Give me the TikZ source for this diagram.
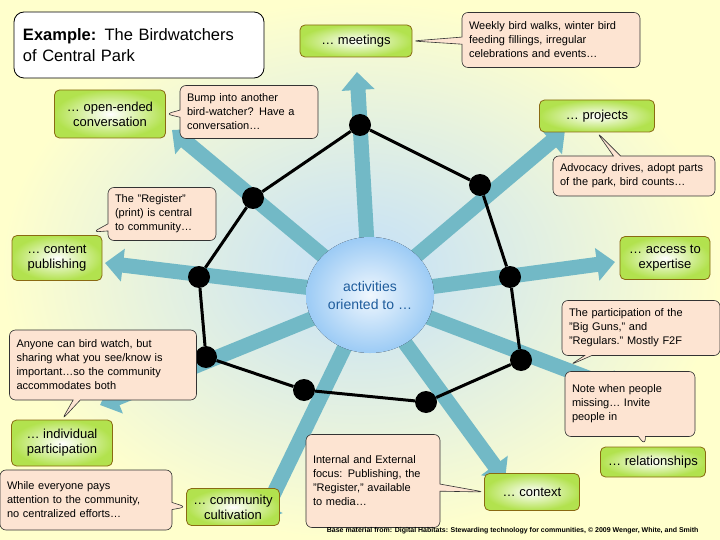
\documentclass[tikz,border=0pt]{standalone}
\usepackage{fontspec}
\setmainfont{Liberation Sans}
\usetikzlibrary{arrows.meta,shapes.callouts}
\definecolor{bgy}{HTML}{FFFFCC}
\definecolor{hubb}{HTML}{9CCBF5}
\definecolor{teal}{HTML}{72B9C6}
\definecolor{peach}{HTML}{FDE4D2}
\definecolor{grn}{HTML}{B2E24E}
\definecolor{brn}{HTML}{8A6A12}
\definecolor{hubtxt}{HTML}{1E5C9C}
\tikzset{
 gbox/.style={draw=brn,line width=0.8pt,rounded corners=5pt,inner color=white,outer color=grn,align=center,font=\fontsize{13}{15}\selectfont,inner sep=4pt},
 cbox/.style={rectangle callout,draw=black!80,line width=0.6pt,fill=peach,rounded corners=6pt,align=left,font=\fontsize{11}{14}\selectfont,inner sep=7pt},
 spoke/.style={teal,line width=15pt,-{Triangle[width=32pt,length=18pt]}},
 dot/.style={circle,fill=black,minimum size=22pt,inner sep=0pt},
 ring/.style={line width=3pt,black}
}
\begin{document}
\begin{tikzpicture}[x=1pt,y=-1pt]
\fill[inner color=hubb!60,outer color=bgy] (0,0) rectangle (720,540);
\useasboundingbox (0,0) rectangle (720,540);
\coordinate (c) at (370,295);
\foreach \p in {(357,72),(172,130),(105,263),(100,405),(260,522),(505,480),(625,392),(615,262),(565,130)}
  \draw[spoke] (c) -- \p;
\fill[inner color=white!85!hubb,outer color=hubb] (c) ellipse (64 and 58);
\node[font=\fontsize{14}{18}\selectfont,text=hubtxt,align=center] (hub) at (c) {activities\\oriented to …};
\node[dot] (d1) at (360,125) {};
\node[dot] (d2) at (480,185) {};
\node[dot] (d3) at (510,277) {};
\node[dot] (d4) at (521,360) {};
\node[dot] (d5) at (426,402) {};
\node[dot] (d6) at (304,390) {};
\node[dot] (d7) at (206,357) {};
\node[dot] (d8) at (199,277) {};
\node[dot] (d9) at (253,198) {};
\draw[ring] (d1)--(d2)--(d3)--(d4)--(d5)--(d6)--(d7)--(d8)--(d9)--(d1);
% title
\node[draw=black,line width=0.8pt,fill=white,rounded corners=10pt,align=left,font=\fontsize{16.5}{21}\selectfont,minimum width=250pt,minimum height=66pt,text width=232pt] (title) at (139,45) {\textbf{Example:} The Birdwatchers\\of Central Park};
% green boxes
\node[gbox,minimum width=112pt,minimum height=32pt] (meet) at (356,41) {… meetings};
\node[gbox,minimum width=111pt,minimum height=48pt] (open) at (110,114) {… open-ended\\conversation};
\node[gbox,minimum width=115pt,minimum height=32pt] (proj) at (597,116) {… projects};
\node[gbox,minimum width=90pt,minimum height=45pt] (cont) at (57,258) {… content\\publishing};
\node[gbox,minimum width=90pt,minimum height=43pt] (acc) at (665,258) {… access to\\expertise};
\node[gbox,minimum width=101pt,minimum height=46pt] (ind) at (62,443) {… individual\\participation};
\node[gbox,minimum width=105pt,minimum height=30pt] (rel) at (653,462) {… relationships};
\node[gbox,minimum width=93pt,minimum height=37pt] (comm) at (233,507) {… community\\cultivation};
\node[gbox,minimum width=95pt,minimum height=37pt] (ctx) at (532,492) {… context};
% callouts
\node[cbox,text width=164pt,minimum height=55pt,callout absolute pointer={(meet.east)}] (weekly) at (551,40) {Weekly bird walks, winter bird\\feeding fillings, irregular\\celebrations and events…};
\node[cbox,text width=124pt,minimum height=53pt,callout absolute pointer={(open.east)}] (bump) at (249,112) {Bump into another\\bird-watcher? Have a\\conversation…};
\node[cbox,text width=148pt,minimum height=40pt,callout absolute pointer={(proj.south)}] (adv) at (634,176) {Advocacy drives, adopt parts\\of the park, bird counts…};
\node[cbox,text width=94pt,minimum height=53pt,callout absolute pointer={(93,232)}] (reg) at (162,214) {The "Register"\\(print) is central\\to community…};
\node[cbox,text width=144pt,minimum height=55pt,callout absolute pointer={(570,365)}] (part) at (641,328) {The participation of the\\"Big Guns," and\\"Regulars." Mostly F2F};
\node[cbox,text width=173pt,minimum height=70pt,callout absolute pointer={(ind.north)}] (any) at (103,365) {Anyone can bird watch, but\\sharing what you see/know is\\important…so the community\\accommodates both};
\node[cbox,text width=116pt,minimum height=65pt,callout absolute pointer={(645,445)}] (note) at (630,404) {Note when people\\missing… Invite\\people in};
\node[cbox,text width=158pt,minimum height=60pt,callout absolute pointer={(comm.west)}] (while) at (86,500) {While everyone pays\\attention to the community,\\no centralized efforts…};
\node[cbox,text width=120pt,minimum height=93pt,callout absolute pointer={(ctx.west)}] (intl) at (373,481) {Internal and External\\focus: Publishing, the\\"Register," available\\to media…};
\node[font=\fontsize{7}{8}\selectfont\bfseries,anchor=east] (foot) at (702,531) {Base material from: Digital Habitats: Stewarding technology for communities, © 2009 Wenger, White, and Smith};
\end{tikzpicture}
\end{document}
